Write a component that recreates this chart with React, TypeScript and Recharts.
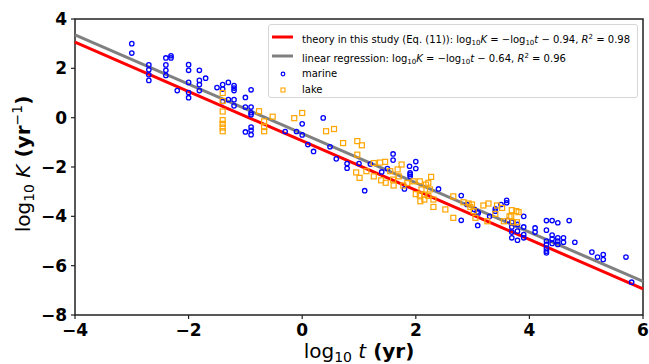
import React from 'react';
import { ReferenceArea, ReferenceLine, Scatter, ScatterChart, XAxis, YAxis } from 'recharts';

type Pt = { x: number; y: number };
const pts = (arr: number[][]): Pt[] => arr.map(([x, y]) => ({ x, y }));

// log10 t (yr), log10 K (1/yr)
const marine: Pt[] = pts([
  [-3.0, 3.0], [-3.0, 2.62],
  [-2.7, 2.14], [-2.7, 1.94], [-2.7, 1.74], [-2.7, 1.51],
  [-2.4, 2.42], [-2.31, 2.51], [-2.31, 2.42], [-2.4, 2.14], [-2.4, 1.92], [-2.4, 1.71],
  [-2.2, 1.1],
  [-2.0, 2.15], [-2.0, 1.92], [-2.0, 1.43], [-2.0, 1.02], [-2.0, 0.81],
  [-1.81, 1.92], [-1.81, 1.51], [-1.81, 1.34], [-1.81, 1.1], [-1.7, 1.6],
  [-1.5, 1.22], [-1.4, 1.34], [-1.4, 1.16], [-1.3, 1.43], [-1.2, 1.3], [-1.2, 1.2], [-1.2, 1.1],
  [-1.4, 0.66], [-1.3, 0.73], [-1.2, 0.73], [-1.2, 0.48],
  [-1.0, 0.82], [-1.0, 0.43], [-1.0, -0.58],
  [-0.9, 1.13], [-0.9, 0.43], [-0.9, 0.2], [-0.9, 0.12], [-0.9, -0.38], [-0.9, -0.51], [-0.9, -0.69],
  [-0.3, -0.56], [-0.1, -0.56], [0.0, -0.25], [0.0, -0.7], [0.1, -1.09], [0.2, -1.37],
  [0.37, -0.01], [0.49, -1.18], [0.6, -1.67], [0.79, -1.86], [0.79, -2.05], [1.0, -1.86],
  [1.1, -2.96], [1.2, -1.88], [1.4, -2.2], [1.5, -2.06], [1.6, -1.47], [1.6, -1.72], [1.8, -2.89],
  [1.89, -1.97], [1.9, -2.24], [1.9, -2.3], [1.9, -2.38], [2.0, -1.78], [2.0, -2.06],
  [2.4, -2.89], [2.8, -3.16], [2.8, -4.16], [2.9, -3.52], [3.03, -3.72], [3.08, -3.82], [3.09, -4.37],
  [3.1, -3.86], [3.3, -4.0], [3.4, -3.7], [3.4, -3.79], [3.5, -3.52], [3.6, -3.35], [3.6, -3.45],
  [3.62, -4.16], [3.69, -4.24], [3.69, -4.43], [3.69, -4.64], [3.69, -4.87],
  [3.79, -4.33], [3.79, -4.6], [3.79, -4.97], [3.9, -4.0], [3.9, -4.43], [3.9, -4.74], [3.9, -4.87],
  [4.1, -4.47], [4.1, -4.64], [4.3, -4.17], [4.4, -4.17], [4.5, -4.26], [4.7, -4.17], [4.3, -4.56],
  [4.4, -4.76], [4.4, -4.91], [4.4, -5.1], [4.3, -5.0], [4.3, -5.14], [4.3, -5.3], [4.3, -5.41], [4.3, -5.48],
  [4.5, -4.87], [4.5, -5.0], [4.5, -5.14], [4.6, -4.87], [4.6, -5.05], [4.8, -5.05],
  [5.1, -5.45], [5.2, -5.65], [5.3, -5.55], [5.3, -5.75], [5.7, -5.65], [5.8, -6.67],
]);

const lake: Pt[] = pts([
  [-1.4, 1.0], [-1.4, 0.68], [-1.4, 0.25], [-1.4, -0.1], [-1.4, -0.25], [-1.4, -0.4], [-1.4, -0.55],
  [-0.76, 0.26], [-0.67, -0.15], [-0.67, -0.38], [-0.67, -0.55], [-0.52, 0.04], [-0.14, -0.02],
  [0.0, 0.19], [0.42, -0.55], [0.56, -0.46], [0.72, -1.03], [0.97, -0.95], [1.05, -1.12], [0.97, -1.5],
  [0.95, -2.22], [1.01, -2.44], [1.13, -2.17], [1.26, -1.84], [1.26, -2.38], [1.37, -1.82], [1.46, -1.79],
  [1.39, -2.54], [1.47, -2.64], [1.55, -2.17], [1.6, -2.51], [1.61, -2.75], [1.68, -2.1], [1.75, -1.9],
  [1.7, -2.38], [1.78, -2.75], [1.85, -2.65], [1.96, -2.58], [2.07, -2.58], [2.0, -3.1], [2.07, -3.15],
  [2.15, -3.12], [2.22, -3.17], [2.08, -3.39], [2.15, -3.32], [2.18, -2.71], [2.22, -2.64], [2.27, -2.4],
  [2.1, -2.91], [2.25, -2.91], [2.31, -3.32], [2.31, -3.62], [2.52, -3.72], [2.66, -3.19], [2.66, -4.06],
  [2.84, -3.43], [2.93, -3.48], [2.96, -3.62], [3.05, -4.06], [2.99, -3.52], [3.02, -3.79], [3.19, -3.56],
  [3.28, -3.48], [3.26, -4.2], [3.4, -3.9], [3.43, -3.56], [3.52, -3.66], [3.55, -4.2], [3.65, -4.0],
  [3.68, -4.0], [3.69, -3.75], [3.77, -3.79], [3.81, -3.83], [3.71, -4.24], [3.78, -4.24],
]);

const xTicks = [-4, -2, 0, 2, 4, 6];
const yTicks = [-8, -6, -4, -2, 0, 2, 4];

// log10 K = slope * log10 t + intercept
const fits = [
  { key: 'theory', slope: -1, intercept: -0.94, color: '#ff0000', r2: '0.98', label: 'theory in this study (Eq. (11)): ' },
  { key: 'regression', slope: -1, intercept: -0.64, color: '#808080', r2: '0.96', label: 'linear regression: ' },
];

const FONT = '"DejaVu Sans", sans-serif';
const fmt = (v: number) => (v < 0 ? `−${-v}` : `${v}`);

const Circle = (p: any) => <circle cx={p.cx} cy={p.cy} r={2.2} fill="none" stroke="#0000ff" strokeWidth={1.3} />;
const Square = (p: any) => (
  <rect x={p.cx - 2.5} y={p.cy - 2.5} width={5} height={5} fill="none" stroke="#ffa500" strokeWidth={1.2} />
);

function XTick(props: any) {
  const { x, y, payload } = props;
  return (
    <text x={x} y={y + 15} textAnchor="middle" fontFamily={FONT} fontWeight="bold" fontSize={17} fill="#000">
      {fmt(payload.value)}
    </text>
  );
}

function YTick(props: any) {
  const { x, y, payload } = props;
  return (
    <text x={x - 2} y={y + 6} textAnchor="end" fontFamily={FONT} fontWeight="bold" fontSize={17} fill="#000">
      {fmt(payload.value)}
    </text>
  );
}

function XLabel(props: any) {
  const { viewBox } = props;
  return (
    <text x={viewBox.x + viewBox.width / 2} y={358} textAnchor="middle" fontFamily={FONT} fontSize={20} fill="#000">
      <tspan>log</tspan>
      <tspan fontSize={14} dy={4}>10</tspan>
      <tspan dy={-4}> </tspan>
      <tspan fontStyle="italic">t</tspan>
      <tspan fontWeight="bold"> (yr)</tspan>
    </text>
  );
}

function YLabel(props: any) {
  const { viewBox } = props;
  const cx = 30;
  const cy = viewBox.y + viewBox.height / 2 - 3;
  return (
    <text x={cx} y={cy} transform={`rotate(-90 ${cx} ${cy})`} textAnchor="middle" fontFamily={FONT} fontSize={20} fill="#000">
      <tspan>log</tspan>
      <tspan fontSize={14} dy={4}>10</tspan>
      <tspan dy={-4}> </tspan>
      <tspan fontStyle="italic">K</tspan>
      <tspan fontWeight="bold"> (yr</tspan>
      <tspan fontSize={14} dy={-8}>−1</tspan>
      <tspan fontWeight="bold" dy={8}>)</tspan>
    </text>
  );
}

function FitFormula({ b, r2 }: { b: number; r2: string }) {
  const sub = { fontSize: 7, verticalAlign: '-2px' };
  return (
    <span>
      log<span style={sub}>10</span><i>K</i> = −log<span style={sub}>10</span><i>t</i> − {(-b).toFixed(2)}, <i>R</i>
      <span style={{ fontSize: 7, verticalAlign: '4px' }}>2</span> = {r2}
    </span>
  );
}

function LegendBox() {
  const rows = [
    ...fits.map((f) => ({ key: f.key, handle: 'line', color: f.color, text: <>{f.label}<FitFormula b={f.intercept} r2={f.r2} /></> })),
    { key: 'marine', handle: 'circle', color: '#0000ff', text: <>marine</> },
    { key: 'lake', handle: 'square', color: '#ffa500', text: <>lake</> },
  ];
  const tops = [12, 31, 49, 65];
  return (
    <div
      style={{
        position: 'absolute', left: 268, top: 24, width: 368, height: 72, border: '1px solid #d6d6d6',
        borderRadius: 3, background: 'rgba(255,255,255,0.85)', fontFamily: FONT, fontSize: 10, color: '#000',
      }}
    >
      {rows.map((r, i) => (
        <div key={r.key} style={{ position: 'absolute', left: 0, top: tops[i] - 6, height: 12, width: '100%' }}>
          <svg width={24} height={12} style={{ position: 'absolute', left: 3, top: 0 }}>
            {r.handle === 'line' && <line x1={0} x2={21} y1={6} y2={6} stroke={r.color} strokeWidth={3} />}
            {r.handle === 'circle' && <circle cx={11} cy={6} r={1.8} fill="none" stroke={r.color} strokeWidth={1.2} />}
            {r.handle === 'square' && <rect x={9} y={4} width={4} height={4} fill="none" stroke={r.color} strokeWidth={1.1} />}
          </svg>
          <div style={{ position: 'absolute', left: 33, top: 0, lineHeight: '12px', whiteSpace: 'nowrap' }}>{r.text}</div>
        </div>
      ))}
    </div>
  );
}

export default function App() {
  const [x0, x1] = [xTicks[0], xTicks[xTicks.length - 1]];
  return (
    <div style={{ position: 'absolute', left: 0, top: 0, width: 649, height: 364, background: '#fff', overflow: 'hidden' }}>
      <ScatterChart width={649} height={364} margin={{ top: 19, right: 6, bottom: 0, left: 0 }} style={{ overflow: 'visible' }}>
        <XAxis
          type="number" dataKey="x" domain={[x0, x1]} ticks={xTicks} height={49} axisLine={false}
          tickLine={{ stroke: '#222', strokeWidth: 1.2 }} tickSize={4} tick={<XTick />}
          label={<XLabel />} allowDataOverflow interval={0}
        />
        <YAxis
          type="number" dataKey="y" domain={[yTicks[0], yTicks[yTicks.length - 1]]} ticks={yTicks} width={75}
          axisLine={false} tickLine={{ stroke: '#222', strokeWidth: 1.2 }} tickSize={4} tick={<YTick />}
          label={<YLabel />} allowDataOverflow interval={0}
        />
        <Scatter name="marine" data={marine} shape={Circle} isAnimationActive={false} />
        <Scatter name="lake" data={lake} shape={Square} isAnimationActive={false} />
        {fits.map((f) => (
          <ReferenceLine
            key={f.key}
            segment={[{ x: x0, y: f.slope * x0 + f.intercept }, { x: x1, y: f.slope * x1 + f.intercept }]}
            stroke={f.color} strokeWidth={3} ifOverflow="visible"
          />
        ))}
        <ReferenceArea x1={x0} x2={x1} y1={-8} y2={4} fill="none" stroke="#222" strokeWidth={1.5} ifOverflow="visible" />
      </ScatterChart>
      <LegendBox />
    </div>
  );
}
